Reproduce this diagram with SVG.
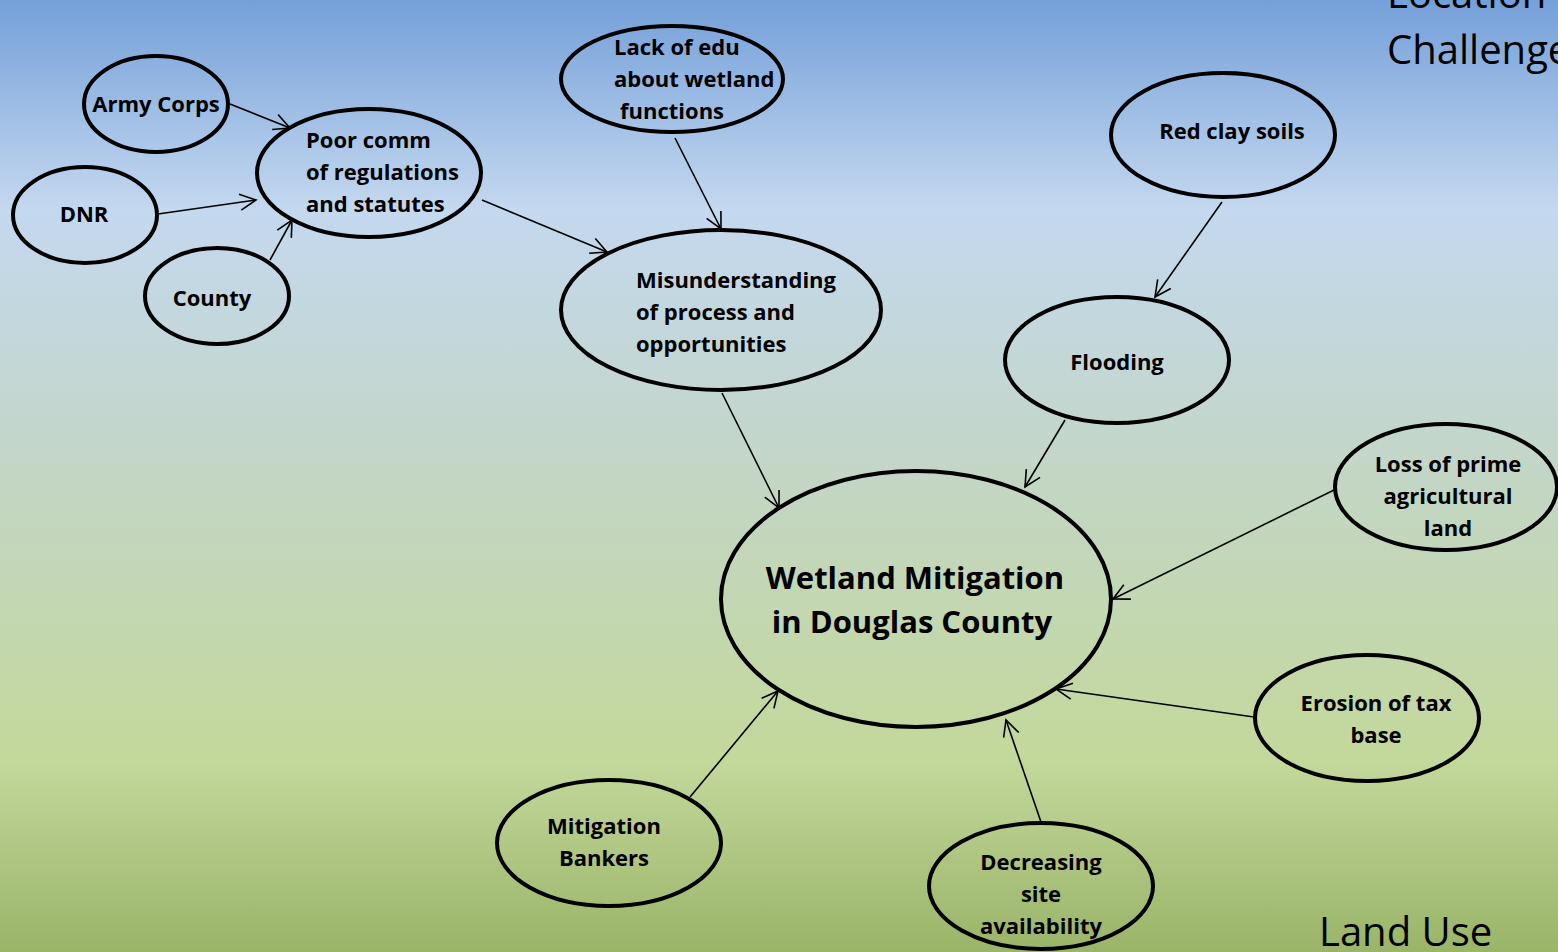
<svg xmlns="http://www.w3.org/2000/svg" width="1558" height="952" viewBox="0 0 1558 952">
<defs>
<linearGradient id="bg" x1="0" y1="0" x2="0" y2="1">
<stop offset="0" stop-color="#74a0d9"/>
<stop offset="0.22" stop-color="#c4d8ef"/>
<stop offset="0.5" stop-color="#c3d6c5"/>
<stop offset="0.8" stop-color="#c3d89b"/>
<stop offset="1" stop-color="#9ab468"/>
</linearGradient>
<marker id="arr" viewBox="0 0 20 20" refX="18" refY="10" markerWidth="20" markerHeight="20" markerUnits="userSpaceOnUse" orient="auto">
<path d="M2,2 L18,10 L2,18" fill="none" stroke="#000" stroke-width="1.6"/>
</marker>
<style>
.n ellipse{fill:none;stroke:#000;stroke-width:4}
.n text{font-family:"Open Sans","Liberation Sans",sans-serif;font-weight:bold;font-size:22px;fill:#000}
.c{text-anchor:middle}
#edges line{stroke:#000;stroke-width:1.6;marker-end:url(#arr)}
.big{font-family:"Open Sans","Liberation Sans",sans-serif;font-size:40px;fill:#000}
</style>
</defs>
<rect width="1558" height="952" fill="url(#bg)"/>
<text class="big" x="1387" y="8">Location</text>
<text class="big" x="1387" y="64">Challenges</text>
<text class="big" x="1319" y="946">Land Use</text>
<g id="edges">
<line x1="230" y1="104" x2="290" y2="128"/>
<line x1="158" y1="214" x2="256" y2="200"/>
<line x1="270" y1="260" x2="292" y2="220"/>
<line x1="482" y1="200" x2="607" y2="252"/>
<line x1="675" y1="138" x2="721" y2="229"/>
<line x1="722" y1="393" x2="779" y2="508"/>
<line x1="1222" y1="202" x2="1155" y2="297"/>
<line x1="1065" y1="420" x2="1025" y2="487"/>
<line x1="1334" y1="490" x2="1113" y2="599"/>
<line x1="1254" y1="717" x2="1056" y2="689"/>
<line x1="1041" y1="822" x2="1006" y2="720"/>
<line x1="690" y1="797" x2="778" y2="691"/>
</g>
<g id="army" class="n"><ellipse cx="156" cy="104" rx="72" ry="48"/><text class="c" x="156" y="112">Army Corps</text></g>
<g id="dnr" class="n"><ellipse cx="85" cy="215" rx="72" ry="48"/><text class="c" x="84" y="222">DNR</text></g>
<g id="county" class="n"><ellipse cx="217" cy="296" rx="72" ry="48"/><text class="c" x="212" y="306">County</text></g>
<g id="poor" class="n"><ellipse cx="369" cy="173" rx="112" ry="64"/><text x="306" y="148">Poor comm</text><text x="306" y="180">of regulations</text><text x="306" y="212">and statutes</text></g>
<g id="lack" class="n"><ellipse cx="672" cy="79" rx="111" ry="53"/><text x="614" y="55">Lack of edu</text><text x="614" y="87">about wetland</text><text x="620" y="119">functions</text></g>
<g id="mis" class="n"><ellipse cx="721" cy="310" rx="160" ry="80"/><text x="636" y="288">Misunderstanding</text><text x="636" y="320">of process and</text><text x="636" y="352">opportunities</text></g>
<g id="red" class="n"><ellipse cx="1223" cy="135" rx="112" ry="62"/><text class="c" x="1232" y="139">Red clay soils</text></g>
<g id="flood" class="n"><ellipse cx="1117" cy="360" rx="112" ry="63"/><text class="c" x="1117" y="370">Flooding</text></g>
<g id="loss" class="n"><ellipse cx="1446" cy="487" rx="111" ry="63"/><text class="c" x="1448" y="472">Loss of prime</text><text class="c" x="1448" y="504">agricultural</text><text class="c" x="1448" y="536">land</text></g>
<g id="wet" class="n"><ellipse cx="916" cy="599" rx="195" ry="128"/><text class="c" x="915" y="589" style="font-size:31px">Wetland Mitigation</text><text class="c" x="912" y="633" style="font-size:31px">in Douglas County</text></g>
<g id="erosion" class="n"><ellipse cx="1367" cy="718" rx="112" ry="63"/><text class="c" x="1376" y="711">Erosion of tax</text><text class="c" x="1376" y="743">base</text></g>
<g id="bankers" class="n"><ellipse cx="609" cy="843" rx="112" ry="63"/><text class="c" x="604" y="834">Mitigation</text><text class="c" x="604" y="866">Bankers</text></g>
<g id="decr" class="n"><ellipse cx="1041" cy="886" rx="112" ry="63"/><text class="c" x="1041" y="870">Decreasing</text><text class="c" x="1041" y="902">site</text><text class="c" x="1041" y="934">availability</text></g>
</svg>
